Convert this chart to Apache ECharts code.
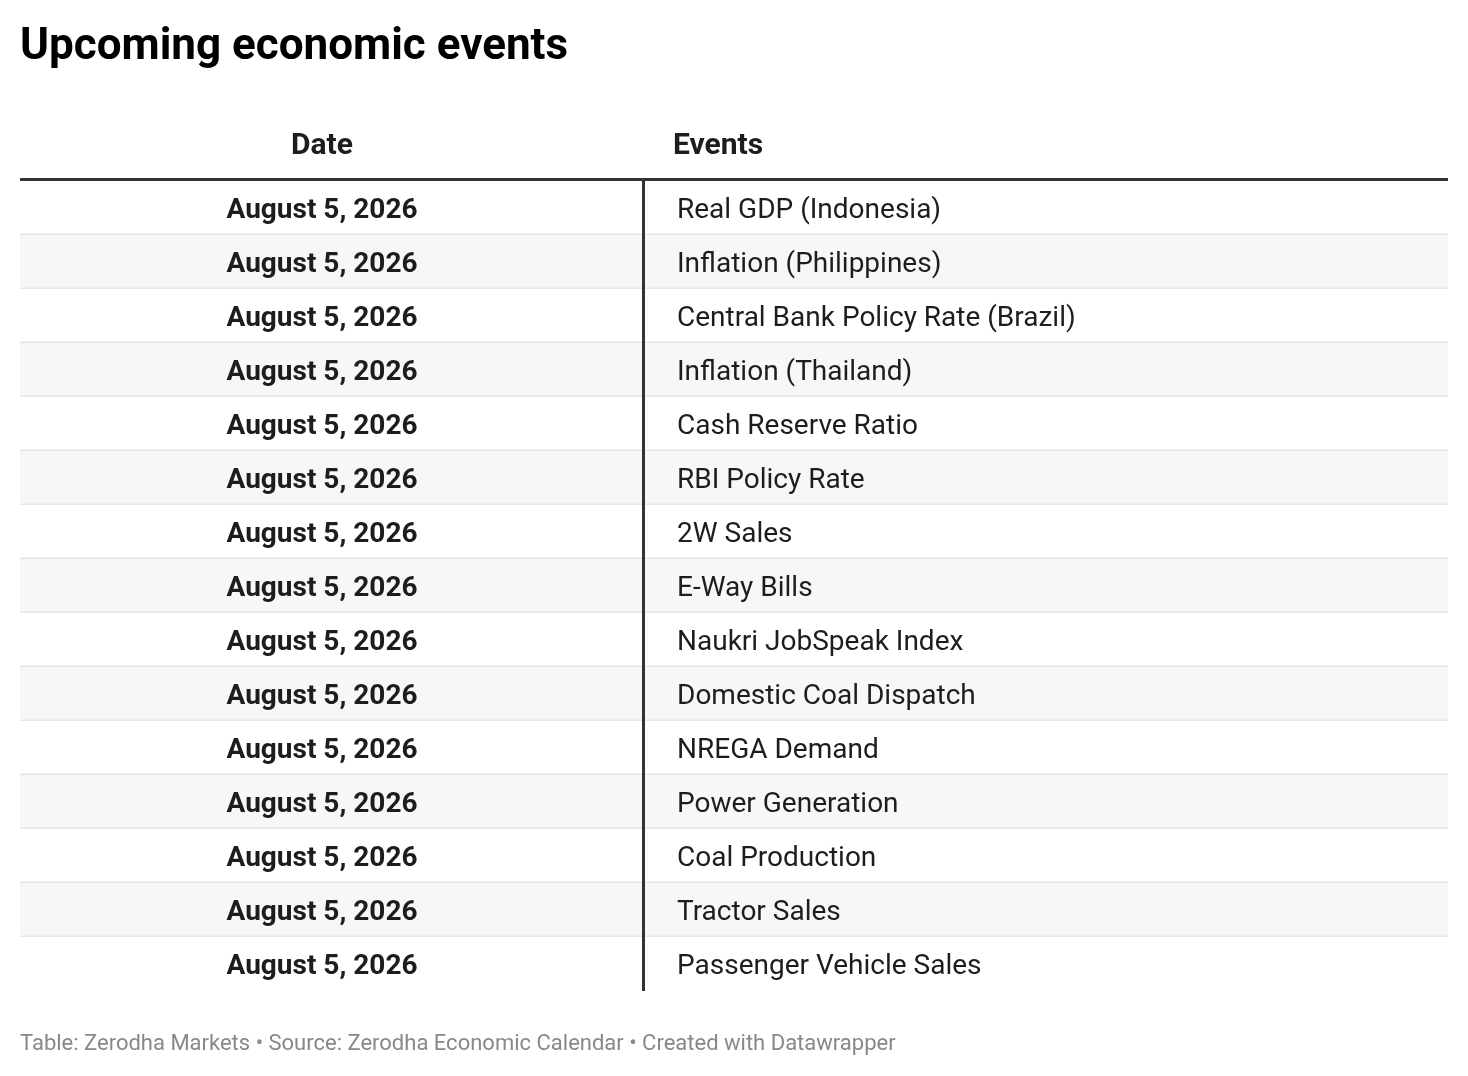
<!DOCTYPE html>
<html>
<head>
<meta charset="utf-8">
<title>Upcoming economic events</title>
<script src="https://cdn.jsdelivr.net/npm/echarts@6/dist/echarts.min.js"></script>
<style>
  html, body { margin: 0; padding: 0; background: #fff; }
  #chart { width: 1468px; height: 1076px; }
</style>
</head>
<body>
<div id="chart"></div>
<script>
var dates = [
    'August 5, 2026', 'August 5, 2026', 'August 5, 2026', 'August 5, 2026', 'August 5, 2026',
    'August 5, 2026', 'August 5, 2026', 'August 5, 2026', 'August 5, 2026', 'August 5, 2026',
    'August 5, 2026', 'August 5, 2026', 'August 5, 2026', 'August 5, 2026', 'August 5, 2026'
];
var events = [
    'Real GDP (Indonesia)',
    'Inflation (Philippines)',
    'Central Bank Policy Rate (Brazil)',
    'Inflation (Thailand)',
    'Cash Reserve Ratio',
    'RBI Policy Rate',
    '2W Sales',
    'E-Way Bills',
    'Naukri JobSpeak Index',
    'Domestic Coal Dispatch',
    'NREGA Demand',
    'Power Generation',
    'Coal Production',
    'Tractor Sales',
    'Passenger Vehicle Sales'
];
var headers = ['Date', 'Events'];

var chart = echarts.init(document.getElementById('chart'));
var rowIds = events.map(function (e, i) { return 'r' + i; });
var rows = events.map(function (e, i) { return [i, rowIds[i]]; });

var FONT = 'Roboto, "Liberation Sans", sans-serif';
var DIVIDER = 623; // px from grid left where the column rule sits

function renderRow(params, api) {
    var i = api.value(0);
    var cs = params.coordSys;
    var band = api.size([0, 1])[1];
    var cy = api.coord([0, rowIds[i]])[1];
    var top = cy - band / 2;
    var children = [];
    // zebra background
    children.push({
        type: 'rect',
        shape: { x: cs.x, y: top, width: cs.width, height: band },
        style: { fill: i % 2 === 1 ? '#f7f7f7' : '#ffffff' }
    });
    // row separator
    if (i < events.length - 1) {
        children.push({
            type: 'rect',
            shape: { x: cs.x, y: top + band - 1.5, width: cs.width, height: 1.5 },
            style: { fill: '#e6e6e6' }
        });
    }
    // column rule
    children.push({
        type: 'rect',
        shape: { x: cs.x + DIVIDER - 1, y: top, width: 3, height: band },
        style: { fill: '#333333' }
    });
    children.push({
        type: 'text',
        style: {
            x: cs.x + 302, y: cy + 3,
            text: dates[i],
            fill: '#1d1d1d',
            font: 'bold 28px ' + FONT,
            align: 'center', verticalAlign: 'middle'
        }
    });
    children.push({
        type: 'text',
        style: {
            x: cs.x + 657, y: cy + 3,
            text: events[i],
            fill: '#1d1d1d',
            font: '28px ' + FONT,
            align: 'left', verticalAlign: 'middle'
        }
    });
    return { type: 'group', children: children };
}

var option = {
    backgroundColor: '#ffffff',
    animation: false,
    title: {
        text: 'Upcoming economic events',
        left: 20, top: 26, padding: 0,
        textStyle: { fontFamily: FONT, fontSize: 44, fontWeight: 'bold', color: '#000000' }
    },
    grid: { left: 20, right: 20, top: 181, bottom: 85 },
    xAxis: { type: 'value', min: 0, max: 1, show: false },
    yAxis: {
        type: 'category', data: rowIds, inverse: true, show: false,
        boundaryGap: true
    },
    series: [{
        type: 'custom',
        renderItem: renderRow,
        data: rows,
        encode: { x: -1, y: 1 },
        silent: true
    }],
    graphic: [
        {
            type: 'text', left: 322 - 31, top: 131,
            style: { text: headers[0], font: 'bold 30px ' + FONT, fill: '#1d1d1d' }
        },
        {
            type: 'text', left: 673, top: 131,
            style: { text: headers[1], font: 'bold 30px ' + FONT, fill: '#1d1d1d' }
        },
        {
            type: 'rect', left: 20, top: 178,
            shape: { width: 1428, height: 3 },
            style: { fill: '#333333' }
        },
        {
            type: 'text', left: 20, top: 1033,
            style: {
                text: 'Table: Zerodha Markets \u2022 Source: Zerodha Economic Calendar \u2022 Created with Datawrapper',
                font: '22px ' + FONT, fill: '#888888'
            }
        }
    ]
};
chart.setOption(option);
</script>
</body>
</html>
